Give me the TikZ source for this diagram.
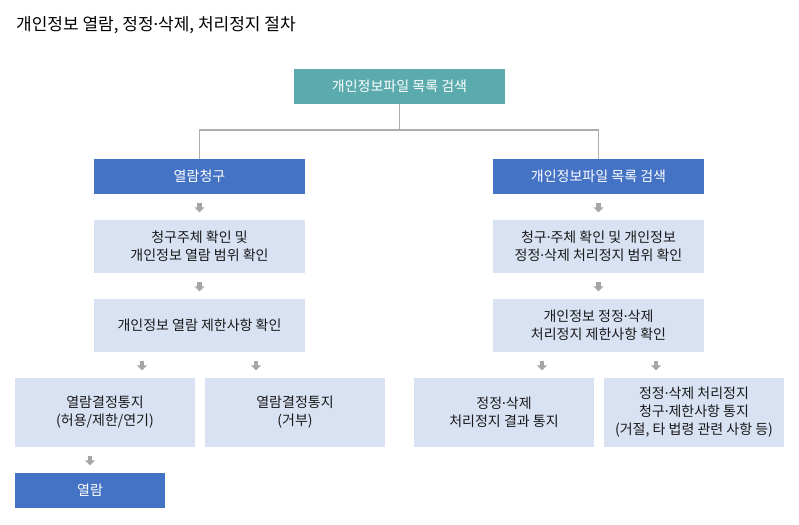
\documentclass[tikz,border=0pt]{standalone}
\usepackage{fontspec}
\setmainfont{Noto Sans CJK KR}
\newfontfamily\dotfont{Noto Sans}
\usetikzlibrary{arrows.meta, positioning}
\definecolor{headTeal}{HTML}{5BABAE}
\definecolor{stepBlue}{HTML}{4472C4}
\definecolor{paleBlue}{HTML}{D9E2F3}
\definecolor{lineGray}{HTML}{ADADAD}
\definecolor{arrowGray}{HTML}{A6A6A6}
\definecolor{textBlack}{gray}{0.1}
\newcommand{\mdot}{{\dotfont ·}}

\begin{document}
\begin{tikzpicture}[x=1pt, y=-1pt,
    box/.style={inner sep=0, align=center, font=\fontsize{14}{18}\selectfont, text=textBlack},
    headbox/.style={box, fill=headTeal, text=white, minimum width=211, minimum height=35},
    stepbox/.style={box, fill=stepBlue, text=white, minimum width=211, minimum height=35},
    infobox/.style={box, fill=paleBlue, minimum width=211, minimum height=53},
    endbox/.style={box, fill=paleBlue, minimum width=180, minimum height=69},
    flow/.style={arrowGray, line width=4.5, -{Triangle[width=10pt,length=5pt]}, shorten <=8.5, shorten >=7.5},
    link/.style={lineGray, line width=1.2}]
    \useasboundingbox (0,0) rectangle (799,524);

    % Title
    \node[anchor=west, inner sep=0, font=\fontsize{17}{20}\selectfont, text=black] (title) at (16,25) {개인정보 열람, 정정\mdot 삭제, 처리정지 절차};

    % Top and branch heads
    \node[headbox] (search) at (399.5,86.5) {개인정보파일 목록 검색};
    \coordinate (split) at (399.5,130);
    \node[stepbox] (ask) at (199.5,176.5) {열람청구};
    \node[stepbox] (fix) at (598.5,176.5) {개인정보파일 목록 검색};

    \draw[link] (search.south) -- (split) -| (ask.north);
    \draw[link] (split) -| (fix.north);

    % Left branch (열람)
    \node[infobox] (askCheck) at (199.5,246.5) {청구주체 확인 및\\개인정보 열람 범위 확인};
    \node[infobox] (askLimit) at (199.5,325.5) {개인정보 열람 제한사항 확인};
    \node[endbox] (askYes) at (105,412.5) {열람결정통지\\(허용/제한/연기)};
    \node[endbox] (askNo) at (295,412.5) {열람결정통지\\(거부)};
    \node[stepbox, minimum width=150] (view) at (90,490.5) {열람};

    % Right branch (정정·삭제, 처리정지)
    \node[infobox] (fixCheck) at (598.5,246.5) {청구\mdot 주체 확인 및 개인정보\\정정\mdot 삭제 처리정지 범위 확인};
    \node[infobox] (fixLimit) at (598.5,325.5) {개인정보 정정\mdot 삭제\\처리정지 제한사항 확인};
    \node[endbox] (fixDone) at (504,412.5) {정정\mdot 삭제\\처리정지 결과 통지};
    \node[endbox] (fixStop) at (694,412.5) {정정\mdot 삭제 처리정지\\청구\mdot 제한사항 통지\\(거절, 타 법령 관련 사항 등)};

    % Step arrows
    \draw[flow] (ask) -- (askCheck);
    \draw[flow] (askCheck) -- (askLimit);
    \draw[flow] ([xshift=-57.5]askLimit.south) -- ([xshift=-57.5]askLimit.south |- askYes.north);
    \draw[flow] ([xshift=56.5]askLimit.south) -- ([xshift=56.5]askLimit.south |- askNo.north);
    \draw[flow] ([xshift=-15]askYes.south) -- (view.north);

    \draw[flow] (fix) -- (fixCheck);
    \draw[flow] (fixCheck) -- (fixLimit);
    \draw[flow] ([xshift=-56.5]fixLimit.south) -- ([xshift=-56.5]fixLimit.south |- fixDone.north);
    \draw[flow] ([xshift=57.5]fixLimit.south) -- ([xshift=57.5]fixLimit.south |- fixStop.north);
\end{tikzpicture}
\end{document}
